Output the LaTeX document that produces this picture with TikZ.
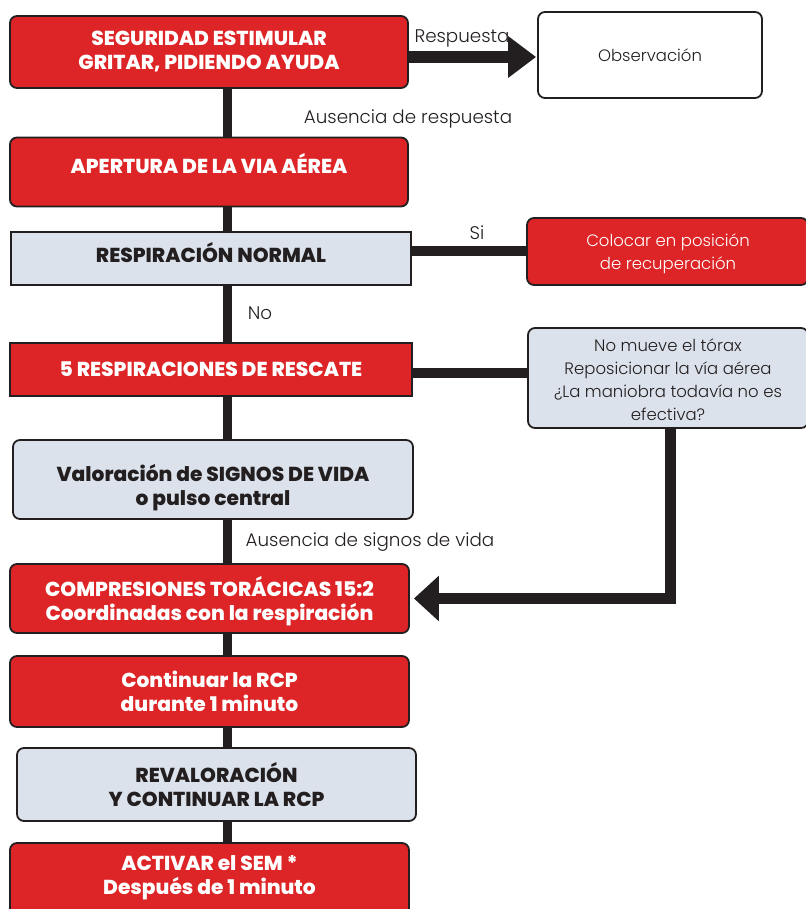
\documentclass[tikz,border=0pt]{standalone}
\usepackage{fontspec}
\setmainfont{Poppins}
\IfFontExistsTF{Poppins Light}{\newfontfamily\lightf{Poppins Light}}{\newfontfamily\lightf{Poppins}}
\IfFontExistsTF{Poppins ExtraBold}{\newfontfamily\heavyf{Poppins ExtraBold}\def\heavysize{20.2}}{\newfontfamily\heavyf{Poppins}[UprightFont=*-Bold]\def\heavysize{21}}
\usetikzlibrary{arrows.meta,backgrounds}
\definecolor{boxred}{RGB}{221,36,38}
\definecolor{boxgray}{RGB}{220,226,235}
\definecolor{ink}{RGB}{35,31,32}
\tikzset{
  box/.style={draw=ink, line width=1.8pt, inner sep=0pt, align=center},
  heavy/.style={font=\heavyf\fontsize{\heavysize}{24}\selectfont},
  redbox/.style={box, fill=boxred, text=white, rounded corners=7pt, heavy},
  redsq/.style={box, fill=boxred, text=white, heavy},
  graybox/.style={box, fill=boxgray, text=ink, rounded corners=7pt, heavy},
  graysq/.style={box, fill=boxgray, text=ink, heavy},
  wtext/.style={heavy, text=white, align=center, inner sep=0pt},
  dtext/.style={heavy, text=ink, align=center, inner sep=0pt},
  conn/.style={draw=ink, line width=10pt},
  lbl/.style={text=ink, inner sep=0pt, font=\lightf\fontsize{16.5}{23}\selectfont},
  biglbl/.style={text=ink, inner sep=0pt, font=\lightf\fontsize{18.3}{23}\selectfont},
}
\begin{document}
\begin{tikzpicture}[x=1pt,y=-1pt]
\useasboundingbox (0,0) rectangle (805,909);
% main column
\node[redbox, minimum width=398pt, minimum height=72pt] (b1) at (209,52) {SEGURIDAD ESTIMULAR\\GRITAR, PIDIENDO AYUDA};
\node[redbox, minimum width=398pt, minimum height=69pt] (b2) at (209,172) {};
\node[wtext] (b2t) at (209,164) {APERTURA DE LA VIA AÉREA};
\node[graysq, minimum width=400pt, minimum height=53pt] (b3) at (211,258.5) {};
\node[dtext] (b3t) at (211,253) {RESPIRACIÓN NORMAL};
\node[redsq, minimum width=402pt, minimum height=53pt] (b5) at (211,369.5) {5 RESPIRACIONES DE RESCATE};
\node[graybox, minimum width=400pt, minimum height=79pt] (b6) at (213,479.5) {};
\node[dtext] (b6t) at (213,487.5) {Valoración de SIGNOS DE VIDA\\o pulso central};
\node[redbox, minimum width=399pt, minimum height=69pt] (b7) at (209.5,598.5) {};
\node[wtext] (b7t) at (209.5,601) {COMPRESIONES TORÁCICAS 15:2\\Coordinadas con la respiración};
\node[redbox, minimum width=399pt, minimum height=71pt] (b8) at (209.5,691.5) {Continuar la RCP\\durante 1 minuto};
\node[graybox, minimum width=399pt, minimum height=73pt] (b9) at (216.5,784.5) {REVALORACIÓN\\Y CONTINUAR LA RCP};
\node[redbox, minimum width=399pt, minimum height=86pt] (b10) at (209.5,886) {};
\node[wtext] (b10t) at (209.5,878) {ACTIVAR el SEM *\\Después de 1 minuto};
% side boxes
\node[box, fill=white, text=ink, rounded corners=7pt, minimum width=224pt, minimum height=86pt, font=\lightf\fontsize{16.5}{23}\selectfont] (obs) at (650,55) {Observación};
\node[box, fill=boxred, rounded corners=7pt, minimum width=281pt, minimum height=67pt] (col) at (667.5,251.5) {};
\node[lbl, text=white, align=center] (colt) at (668,253.5) {Colocar en posición\\de recuperación};
\node[box, fill=boxgray, rounded corners=7pt, minimum width=280pt, minimum height=100pt] (nm) at (668,378) {};
\node[lbl, align=center] (nmt) at (668,380) {No mueve el tórax\\Reposicionar la vía aérea\\¿La maniobra todavía no es\\efectiva?};
% labels
\node[biglbl] (l1) at (462,38.5) {Respuesta};
\node[biglbl] (l2) at (408,119) {Ausencia de respuesta};
\node[biglbl] (l3) at (477,233) {Si};
\node[biglbl] (l4) at (260,313) {No};
\node[biglbl] (l5) at (370,542) {Ausencia de signos de vida};
% coordinates
\coordinate (tx) at (227,0);
\coordinate (ry) at (0,57);
\coordinate (sy) at (0,251);
\coordinate (my) at (0,373);
\coordinate (dx) at (670,0);
\begin{scope}[on background layer]
  \foreach \a/\b in {b1/b2,b2/b3,b3/b5,b5/b6,b6/b7,b7/b8,b8/b9,b9/b10}
    \draw[conn, line width=9pt] (\a.south -| tx) -- (\b.north -| tx);
  \draw[conn] (b3.east |- sy) -- (col.west |- sy);
  \draw[conn] (b5.east |- my) -- (nm.west |- my);
\end{scope}
\draw[conn, line width=12pt, -{Triangle[length=28pt,width=40pt]}, shorten >=1pt] (b1.east |- ry) -- (obs.west |- ry);
\draw[conn, line width=11pt, line join=miter, -{Triangle[length=25pt,width=44pt]}, shorten >=4pt] (nm.south -| dx) |- (b7.east);
\end{tikzpicture}
\end{document}
